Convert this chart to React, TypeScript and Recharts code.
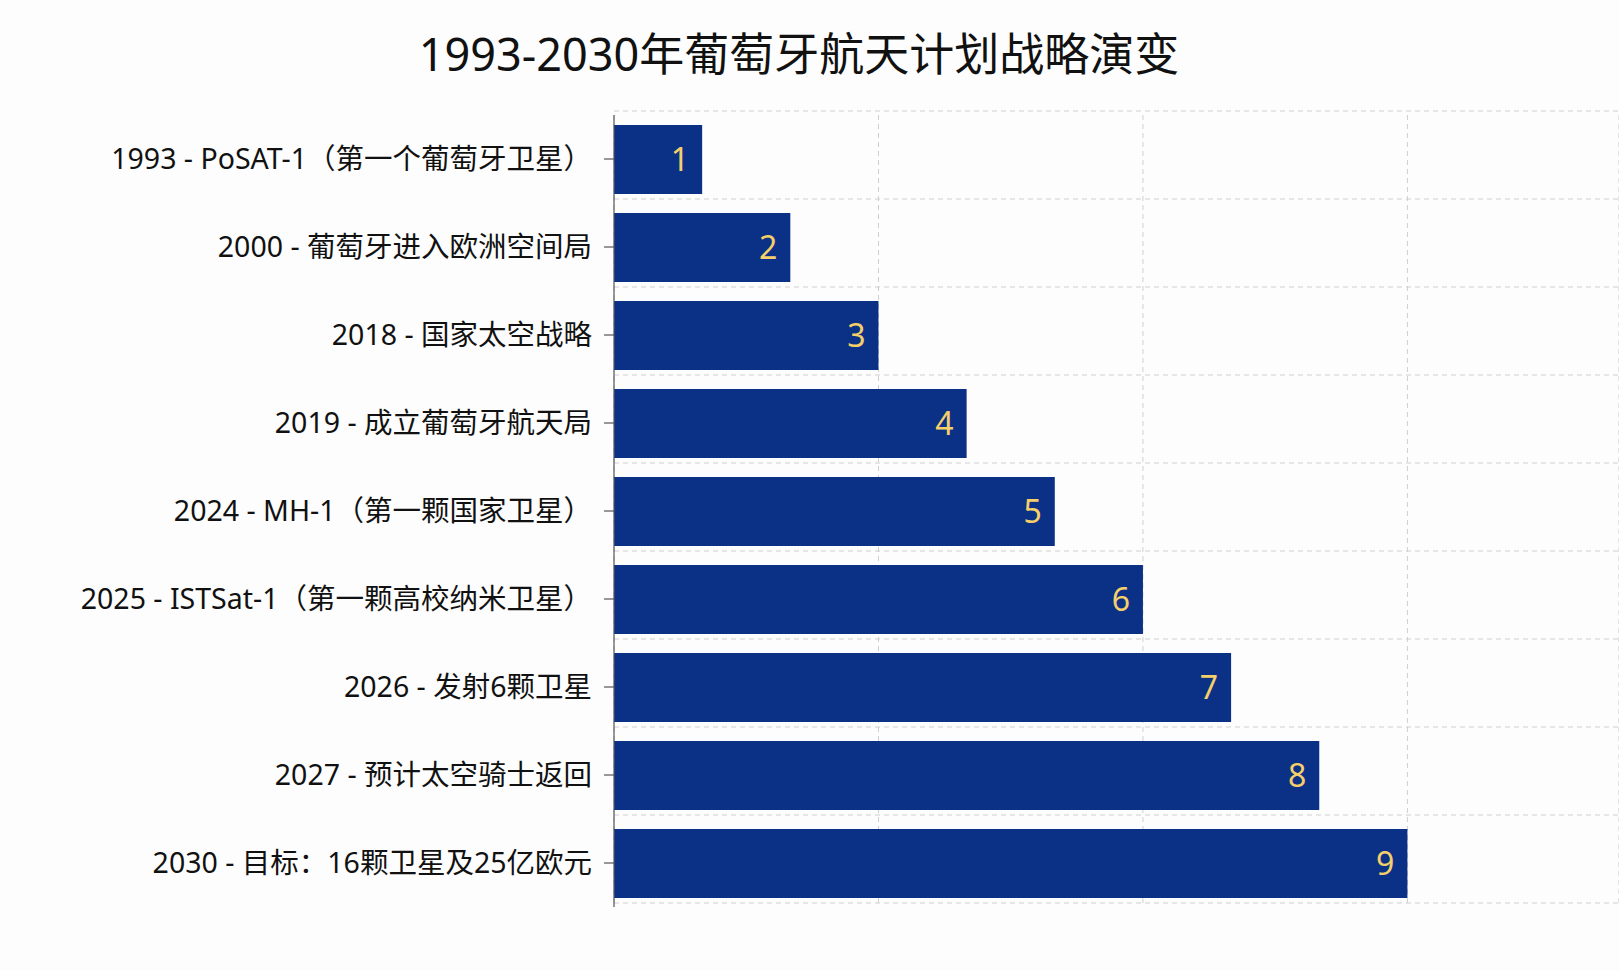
import React from "react";
import {
  BarChart,
  Bar,
  XAxis,
  YAxis,
  CartesianGrid,
  LabelList,
} from "recharts";

const categories: string[] = [
  "1993 - PoSAT-1（第一个葡萄牙卫星）",
  "2000 - 葡萄牙进入欧洲空间局",
  "2018 - 国家太空战略",
  "2019 - 成立葡萄牙航天局",
  "2024 - MH-1（第一颗国家卫星）",
  "2025 - ISTSat-1（第一颗高校纳米卫星）",
  "2026 - 发射6颗卫星",
  "2027 - 预计太空骑士返回",
  "2030 - 目标：16颗卫星及25亿欧元",
];

const stageValues: number[] = [1, 2, 3, 4, 5, 6, 7, 8, 9];

const xTicks: number[] = [3, 6, 9];

const titleText = "1993-2030年葡萄牙航天计划战略演变";

const data = categories.map((label, i) => ({ label, value: stageValues[i] }));

const FONT = "'Noto Sans', 'Noto Sans CJK SC', sans-serif";

export default function App() {
  const W = 1619;
  const H = 965;
  return (
    <div
      style={{
        position: "relative",
        width: W,
        height: H,
        background: "#fdfdfd",
        fontFamily: FONT,
        overflow: "hidden",
      }}
    >
      <style>{`body{margin:0;background:#fdfdfd;}`}</style>
      <div
        style={{
          position: "absolute",
          left: 0,
          top: 30,
          width: 1598,
          textAlign: "center",
          fontSize: 45,
          lineHeight: "48px",
          color: "#111",
          fontFamily: FONT,
        }}
      >
        {titleText}
      </div>
      <BarChart
        width={W}
        height={H}
        data={data}
        layout="vertical"
        margin={{ top: 115, right: 0, bottom: 58, left: 0 }}
        barCategoryGap={19}
      >
        <CartesianGrid
          stroke="#cfcfcf"
          strokeDasharray="5 4"
          horizontalCoordinatesGenerator={({ offset }: any) => {
            const n = categories.length;
            const arr: number[] = [];
            for (let i = 0; i <= n; i++) arr.push(offset.top - 4 + (i * offset.height) / n);
            return arr;
          }}
        />
        <XAxis
          type="number"
          domain={[0, 11.4]}
          ticks={xTicks}
          hide
        />
        <YAxis
          type="category"
          dataKey="label"
          width={614}
          axisLine={{ stroke: "#555", strokeWidth: 1.2 }}
          tickLine={{ stroke: "#555", strokeWidth: 1.2 }}
          tickSize={10}
          tickMargin={12}
          tick={{ fill: "#111", fontSize: 28.5, fontFamily: FONT }}
          interval={0}
        />
        <Bar
          dataKey="value"
          fill="#0B3187"
          barSize={69}
          isAnimationActive={false}
        >
          <LabelList
            dataKey="value"
            position="insideRight"
            offset={13}
            fill="#F5CF6A"
            fontSize={32}
            fontFamily={FONT}
          />
        </Bar>
      </BarChart>
    </div>
  );
}
